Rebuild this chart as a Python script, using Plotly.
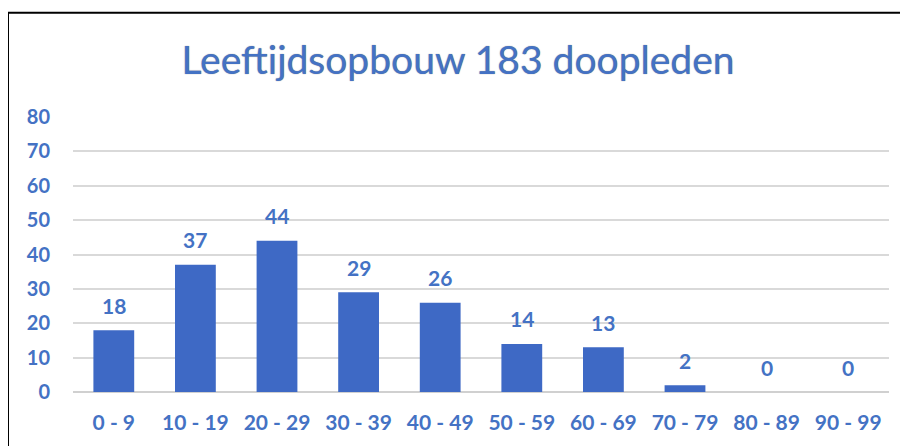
import plotly.graph_objects as go

categories = ["0 - 9", "10 - 19", "20 - 29", "30 - 39", "40 - 49",
              "50 - 59", "60 - 69", "70 - 79", "80 - 89", "90 - 99"]
counts = [18, 37, 44, 29, 26, 14, 13, 2, 0, 0]
y_ticks = [0, 10, 20, 30, 40, 50, 60, 70, 80]

blue = "#4472C4"
fig = go.Figure()
fig.add_trace(go.Bar(
    x=categories, y=counts,
    marker=dict(color="#3E69C5", line=dict(width=0)),
    width=0.5,
))
for c, v in zip(categories, counts):
    fig.add_annotation(x=c, y=v, text=str(v), showarrow=False,
                       yshift=25, yanchor="middle",
                       font=dict(family="Lato", size=21, color=blue, weight="bold"))

fig.update_layout(
    width=900, height=438,
    margin=dict(l=65, r=19, t=109, b=44),
    paper_bgcolor="white", plot_bgcolor="white",
    showlegend=False,
    title=dict(text="Leeftijdsopbouw 183 doopleden", x=0.5, xanchor="center",
               y=1 - 52 / 438, yanchor="middle",
               font=dict(family="Lato", size=39, color=blue,
                         shadow="0px 0px 1px #7a7a7a")),
    xaxis=dict(showgrid=False, showline=False, ticks="",
               ticklabelstandoff=16,
               tickfont=dict(family="Lato", size=21, color=blue, weight="bold")),
    yaxis=dict(range=[0, 80], tickvals=y_ticks, showgrid=True,
               gridcolor="#D9D9D9", gridwidth=1.5, zeroline=True,
               zerolinecolor="#D0D0D0", zerolinewidth=2, ticks="",
               ticklabelstandoff=22,
               tickfont=dict(family="Lato", size=20, color=blue, weight="bold")),
    shapes=[dict(type="rect", xref="paper", yref="paper",
                 x0=-65 / 816, x1=1.05, y0=-0.3, y1=(394 - 12) / 277,
                 line=dict(color="black", width=2), fillcolor="rgba(0,0,0,0)",
                 layer="above")],
)
fig.write_html("out.html")
